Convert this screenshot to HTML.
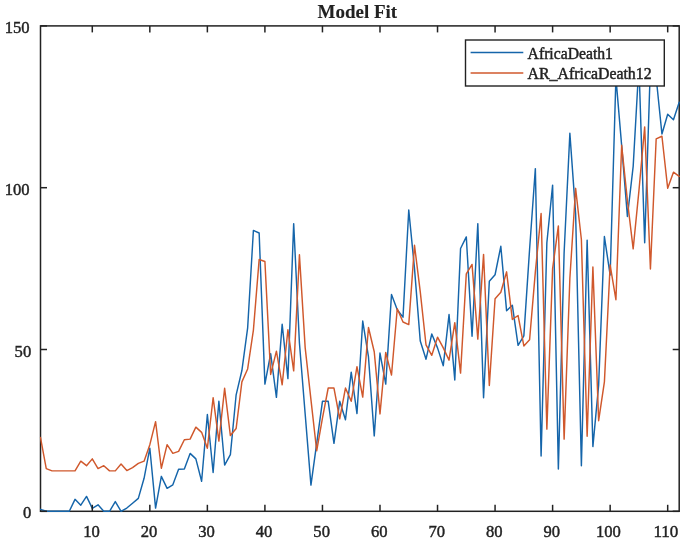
<!DOCTYPE html>
<html><head><meta charset="utf-8"><style>
html,body{margin:0;padding:0;background:#fff;}
body{width:685px;height:541px;overflow:hidden;}
svg{display:block;will-change:transform;}
text{font-family:"Liberation Serif",serif;fill:#222222;stroke:#222222;stroke-width:0.45px;}
</style></head><body>
<svg width="685" height="541" viewBox="0 0 685 541">
<rect width="685" height="541" fill="#fff"/>
<defs><clipPath id="c"><rect x="39.7" y="25.099999999999998" width="640.3000000000001" height="487.00000000000006"/></clipPath></defs>
<g stroke="#222222" stroke-width="1.5" fill="none">
<rect x="40.5" y="25.9" width="638.70" height="485.40"/>
</g>
<g clip-path="url(#c)" fill="none" stroke-width="1.45" stroke-linejoin="round" stroke-linecap="round">
<path d="M40.50,509.36 L46.25,511.30 L52.01,511.30 L57.76,511.30 L63.52,511.30 L69.27,511.30 L75.02,499.33 L80.78,505.15 L86.53,496.41 L92.29,508.39 L98.04,504.83 L103.79,511.30 L109.55,511.30 L115.30,501.59 L121.06,511.30 L126.81,508.06 L132.56,503.21 L138.32,498.36 L144.07,478.29 L149.83,448.20 L155.58,508.06 L161.34,476.35 L167.09,488.32 L172.84,484.76 L178.60,469.23 L184.35,468.91 L190.11,453.38 L195.86,458.88 L201.61,481.21 L207.37,414.54 L213.12,472.47 L218.88,401.28 L224.63,465.03 L230.38,454.67 L236.14,394.80 L241.89,370.53 L247.65,327.82 L253.40,230.42 L259.15,233.00 L264.91,384.13 L270.66,353.71 L276.42,397.39 L282.17,324.26 L287.92,378.62 L293.68,223.62 L299.43,343.03 L305.19,414.22 L310.94,485.09 L316.69,443.34 L322.45,401.28 L328.20,401.28 L333.96,443.34 L339.71,401.28 L345.46,419.72 L351.22,372.15 L356.97,413.57 L362.73,321.02 L368.48,356.94 L374.24,435.90 L379.99,353.06 L385.74,384.13 L391.50,294.49 L397.25,309.70 L403.01,317.14 L408.76,210.03 L414.51,268.60 L420.27,341.09 L426.02,359.21 L431.78,333.97 L437.53,347.88 L443.28,365.68 L449.04,314.55 L454.79,379.92 L460.55,248.54 L466.30,236.89 L472.05,336.23 L477.81,223.62 L483.56,397.72 L489.32,281.22 L495.07,274.75 L500.82,246.27 L506.58,310.67 L512.33,305.17 L518.09,345.29 L523.84,335.91 L529.59,249.18 L535.35,168.61 L541.10,455.96 L546.86,242.71 L552.61,185.11 L558.36,468.91 L564.12,252.42 L569.87,133.34 L575.63,213.59 L581.38,465.67 L587.14,240.12 L592.89,446.58 L598.64,385.10 L604.40,236.56 L610.15,275.07 L615.91,77.68 L621.66,145.63 L627.41,216.50 L633.17,166.34 L638.92,64.73 L644.68,242.71 L650.43,64.73 L656.18,77.68 L661.94,133.98 L667.69,114.24 L673.45,119.74 L679.20,102.27" stroke="#1565AA"/>
<path d="M40.50,437.52 L46.25,468.58 L52.01,470.85 L57.76,470.85 L63.52,470.85 L69.27,470.85 L75.02,470.85 L80.78,461.14 L86.53,465.67 L92.29,458.88 L98.04,468.58 L103.79,465.67 L109.55,470.85 L115.30,470.85 L121.06,464.05 L126.81,470.53 L132.56,467.61 L138.32,463.41 L144.07,461.14 L149.83,444.64 L155.58,421.66 L161.34,468.26 L167.09,444.64 L172.84,453.38 L178.60,451.43 L184.35,439.78 L190.11,439.14 L195.86,427.16 L201.61,432.34 L207.37,448.20 L213.12,397.72 L218.88,441.08 L224.63,388.33 L230.38,435.58 L236.14,428.46 L241.89,381.86 L247.65,368.92 L253.40,330.08 L259.15,259.54 L264.91,261.48 L270.66,374.42 L276.42,351.12 L282.17,384.77 L287.92,329.76 L293.68,370.86 L299.43,254.69 L305.19,347.88 L310.94,399.66 L316.69,450.79 L322.45,418.10 L328.20,388.01 L333.96,388.01 L339.71,418.75 L345.46,388.01 L351.22,401.28 L356.97,366.65 L362.73,397.07 L368.48,327.50 L374.24,351.77 L379.99,413.90 L385.74,352.41 L391.50,375.06 L397.25,308.73 L403.01,321.99 L408.76,324.58 L414.51,245.30 L420.27,291.90 L426.02,344.97 L431.78,355.32 L437.53,337.20 L443.28,347.88 L449.04,360.18 L454.79,322.64 L460.55,373.12 L466.30,273.78 L472.05,264.39 L477.81,339.14 L483.56,254.36 L489.32,385.42 L495.07,298.69 L500.82,292.22 L506.58,271.84 L512.33,319.41 L518.09,315.52 L523.84,345.94 L529.59,339.79 L535.35,271.84 L541.10,213.59 L546.86,429.11 L552.61,268.60 L558.36,225.88 L564.12,439.14 L569.87,278.31 L575.63,188.35 L581.38,239.48 L587.14,436.22 L592.89,266.98 L598.64,420.69 L604.40,381.86 L610.15,265.04 L615.91,299.67 L621.66,145.31 L627.41,200.64 L633.17,248.86 L638.92,190.94 L644.68,126.86 L650.43,268.92 L656.18,138.84 L661.94,136.25 L667.69,188.35 L673.45,172.17 L679.20,176.37" stroke="#D0582C"/>
</g>
<g stroke="#222222" stroke-width="1.5" fill="none"><line x1="92.29" y1="511.30" x2="92.29" y2="504.80"/><line x1="92.29" y1="25.90" x2="92.29" y2="32.40"/><line x1="149.83" y1="511.30" x2="149.83" y2="504.80"/><line x1="149.83" y1="25.90" x2="149.83" y2="32.40"/><line x1="207.37" y1="511.30" x2="207.37" y2="504.80"/><line x1="207.37" y1="25.90" x2="207.37" y2="32.40"/><line x1="264.91" y1="511.30" x2="264.91" y2="504.80"/><line x1="264.91" y1="25.90" x2="264.91" y2="32.40"/><line x1="322.45" y1="511.30" x2="322.45" y2="504.80"/><line x1="322.45" y1="25.90" x2="322.45" y2="32.40"/><line x1="379.99" y1="511.30" x2="379.99" y2="504.80"/><line x1="379.99" y1="25.90" x2="379.99" y2="32.40"/><line x1="437.53" y1="511.30" x2="437.53" y2="504.80"/><line x1="437.53" y1="25.90" x2="437.53" y2="32.40"/><line x1="495.07" y1="511.30" x2="495.07" y2="504.80"/><line x1="495.07" y1="25.90" x2="495.07" y2="32.40"/><line x1="552.61" y1="511.30" x2="552.61" y2="504.80"/><line x1="552.61" y1="25.90" x2="552.61" y2="32.40"/><line x1="610.15" y1="511.30" x2="610.15" y2="504.80"/><line x1="610.15" y1="25.90" x2="610.15" y2="32.40"/><line x1="667.69" y1="511.30" x2="667.69" y2="504.80"/><line x1="667.69" y1="25.90" x2="667.69" y2="32.40"/><line x1="40.50" y1="511.30" x2="47.00" y2="511.30"/><line x1="679.20" y1="511.30" x2="672.70" y2="511.30"/><line x1="40.50" y1="349.50" x2="47.00" y2="349.50"/><line x1="679.20" y1="349.50" x2="672.70" y2="349.50"/><line x1="40.50" y1="187.70" x2="47.00" y2="187.70"/><line x1="679.20" y1="187.70" x2="672.70" y2="187.70"/><line x1="40.50" y1="25.90" x2="47.00" y2="25.90"/><line x1="679.20" y1="25.90" x2="672.70" y2="25.90"/></g>
<g font-size="17.2" text-anchor="middle"><text x="91.49" y="537.2" textLength="16.60" lengthAdjust="spacingAndGlyphs">10</text><text x="149.03" y="537.2" textLength="16.60" lengthAdjust="spacingAndGlyphs">20</text><text x="206.57" y="537.2" textLength="16.60" lengthAdjust="spacingAndGlyphs">30</text><text x="264.11" y="537.2" textLength="16.60" lengthAdjust="spacingAndGlyphs">40</text><text x="321.65" y="537.2" textLength="16.60" lengthAdjust="spacingAndGlyphs">50</text><text x="379.19" y="537.2" textLength="16.60" lengthAdjust="spacingAndGlyphs">60</text><text x="436.73" y="537.2" textLength="16.60" lengthAdjust="spacingAndGlyphs">70</text><text x="494.27" y="537.2" textLength="16.60" lengthAdjust="spacingAndGlyphs">80</text><text x="551.81" y="537.2" textLength="16.60" lengthAdjust="spacingAndGlyphs">90</text><text x="608.35" y="537.2" textLength="24.90" lengthAdjust="spacingAndGlyphs">100</text><text x="665.89" y="537.2" textLength="24.90" lengthAdjust="spacingAndGlyphs">110</text></g>
<g font-size="17.2" text-anchor="end"><text x="31.40" y="518.40" textLength="8.30" lengthAdjust="spacingAndGlyphs">0</text><text x="31.20" y="356.60" textLength="16.60" lengthAdjust="spacingAndGlyphs">50</text><text x="29.60" y="194.80" textLength="24.90" lengthAdjust="spacingAndGlyphs">100</text><text x="29.60" y="33.00" textLength="24.90" lengthAdjust="spacingAndGlyphs">150</text></g>
<text x="357.3" y="17.7" font-size="19" font-weight="bold" text-anchor="middle" style="stroke-width:0.1px">Model Fit</text>
<g>
<rect x="465.5" y="40" width="198.8" height="46" fill="#fff" stroke="#222222" stroke-width="1.4"/>
<line x1="470.6" y1="52.5" x2="523.3" y2="52.5" stroke="#1565AA" stroke-width="1.45"/>
<line x1="470.6" y1="73" x2="523.3" y2="73" stroke="#D0582C" stroke-width="1.45"/>
<text x="527.6" y="58.5" font-size="15.7">AfricaDeath1</text>
<text x="527.6" y="79.2" font-size="15.7" textLength="124" lengthAdjust="spacingAndGlyphs">AR_AfricaDeath12</text>
</g>
</svg>
</body></html>
